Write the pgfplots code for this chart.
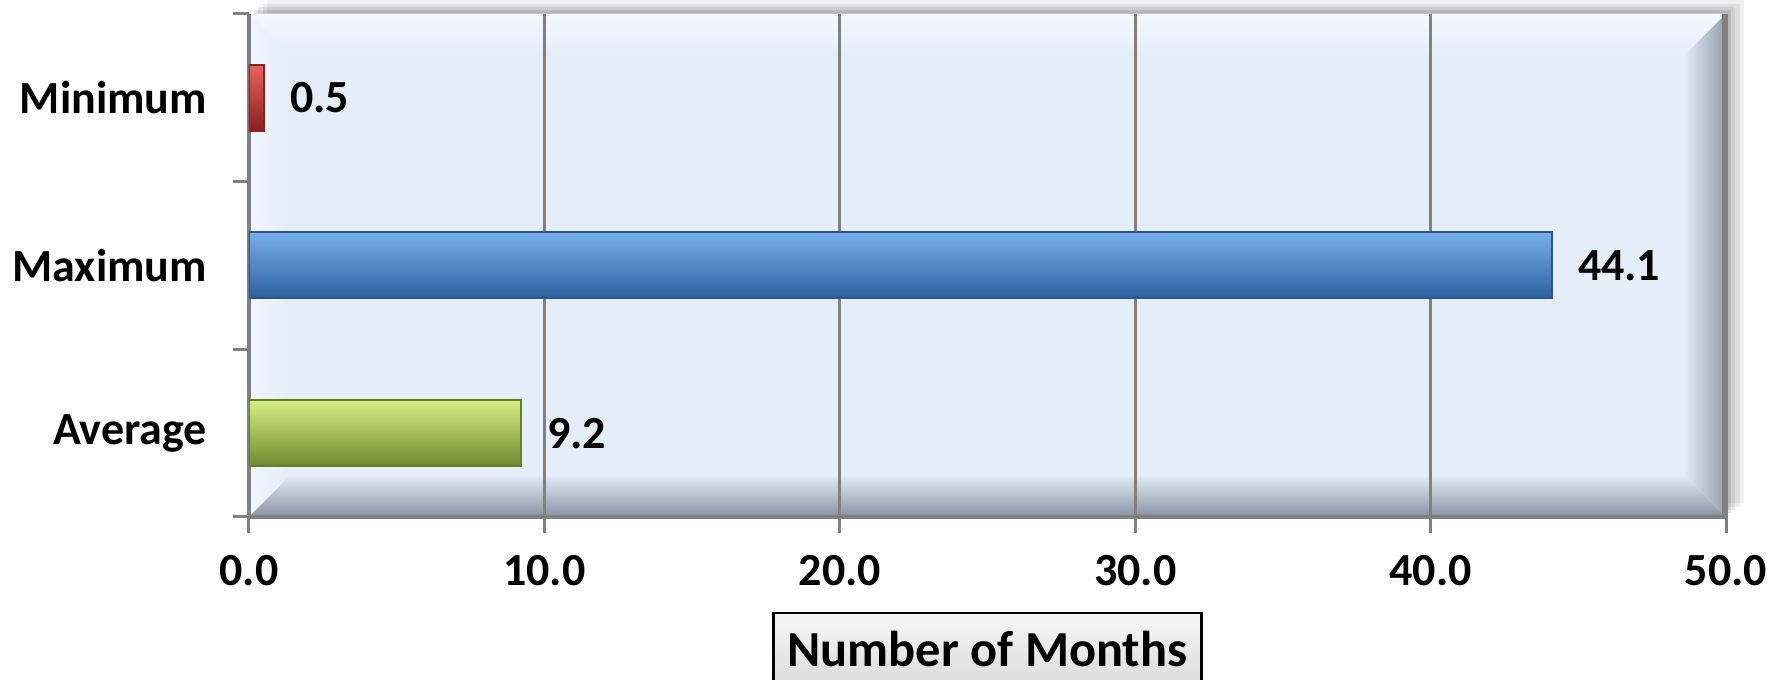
\documentclass[border=0pt]{standalone}
\usepackage{fontspec}
\setmainfont{Carlito}
\usepackage{pgfplots}
\pgfplotsset{compat=1.18}
\definecolor{bg}{RGB}{228,237,248}
\definecolor{gridc}{RGB}{128,128,128}
\definecolor{bevb}{RGB}{135,145,160}
\definecolor{bevr}{RGB}{145,155,170}
\definecolor{bevt}{RGB}{244,249,255}
\definecolor{bevl}{RGB}{240,246,252}
\definecolor{rT}{RGB}{230,100,95}
\definecolor{rM}{RGB}{192,48,46}
\definecolor{rB}{RGB}{140,30,30}
\definecolor{rD}{RGB}{140,35,35}
\definecolor{bT}{RGB}{120,175,235}
\definecolor{bM}{RGB}{62,124,200}
\definecolor{bB}{RGB}{45,95,158}
\definecolor{bD}{RGB}{40,85,140}
\definecolor{gT}{RGB}{215,238,130}
\definecolor{gM}{RGB}{155,190,70}
\definecolor{gB}{RGB}{110,138,46}
\definecolor{gD}{RGB}{100,125,40}
\tikzset{
  bevels/.style={path picture={
    \coordinate (SW) at (path picture bounding box.south west);
    \coordinate (SE) at (path picture bounding box.south east);
    \coordinate (NW) at (path picture bounding box.north west);
    \coordinate (NE) at (path picture bounding box.north east);
    \coordinate (iSW) at ([shift={(10.5pt,10.5pt)}]SW);
    \coordinate (iSE) at ([shift={(-10.5pt,10.5pt)}]SE);
    \coordinate (iNW) at ([shift={(10.5pt,-10.5pt)}]NW);
    \coordinate (iNE) at ([shift={(-10.5pt,-10.5pt)}]NE);
    \shade[bottom color=bg, top color=bevt] (NW) -- (NE) -- (iNE) -- (iNW) -- cycle;
    \shade[right color=bg, left color=bevl] (SW) -- (NW) -- (iNW) -- (iSW) -- cycle;
    \shade[top color=bg, bottom color=bevb] (SW) -- (SE) -- (iSE) -- (iSW) -- cycle;
    \shade[left color=bg, right color=bevr] (SE) -- (NE) -- (iNE) -- (iSE) -- cycle;
    \draw[gridc, line width=2pt] (NE) -- (SE);
  }},
}
\begin{document}
\begin{tikzpicture}
\begin{axis}[
  at={(0pt,0pt)}, anchor=south west,
  scale only axis, width=369.25pt, height=125.75pt,
  xbar, bar width=16.5pt, bar shift=0pt,
  xmin=0, xmax=50, ymin=-0.5, ymax=2.5,
  xtick={0,10,...,50},
  ytick={0,1,2}, yticklabels={Average,Maximum,Minimum},
  minor ytick={-0.5,0.5,1.5,2.5},
  axis x line*=bottom, axis y line*=left,
  tick align=outside,
  major tick length=4pt, minor tick length=4pt,
  major y tick style={draw=none},
  tick style={gridc, line width=0.75pt},
  axis line style={gridc, line width=0.9pt},
  xmajorgrids, grid style={gridc, line width=0.75pt},
  axis background/.style={
    preaction={fill=black, opacity=0.06, transform canvas={xshift=4.5pt, yshift=3.5pt}},
    preaction={fill=black, opacity=0.07, transform canvas={xshift=3.4pt, yshift=2.6pt}},
    preaction={fill=black, opacity=0.08, transform canvas={xshift=2.3pt, yshift=1.8pt}},
    preaction={fill=black, opacity=0.10, transform canvas={xshift=1.2pt, yshift=0.9pt}},
    fill=bg, bevels},
  ticklabel style={font=\bfseries\fontsize{11.5}{13}\selectfont, text=black},
  xticklabel={\pgfmathprintnumber[fixed,fixed zerofill,precision=1,assume math mode=true]{\tick}},
  xticklabel style={yshift=-2pt},
  yticklabel style={xshift=-3pt},
  xlabel={Number of Months},
  xlabel style={draw=black, line width=0.6pt, top color=gray!6, bottom color=gray!28,
    font=\bfseries\fontsize{12.6}{15}\selectfont, inner xsep=3.5pt, minimum height=18pt,
    at={(axis description cs:0.5,0)}, anchor=center, yshift=-33pt},
  point meta=x,
  nodes near coords={\pgfmathprintnumber[fixed,fixed zerofill,precision=1,assume math mode=true]{\pgfplotspointmeta}},
  nodes near coords style={font=\bfseries\fontsize{11.5}{13}\selectfont, text=black, anchor=west, xshift=3pt},
]
\addplot[draw=rD, line width=0.5pt, top color=rT, middle color=rM, bottom color=rB] coordinates {(0.5,2)};
\addplot[draw=bD, line width=0.5pt, top color=bT, middle color=bM, bottom color=bB] coordinates {(44.1,1)};
\addplot[draw=gD, line width=0.5pt, top color=gT, middle color=gM, bottom color=gB] coordinates {(9.2,0)};
\end{axis}
\pgfresetboundingbox
\path[use as bounding box] (-62.25pt,-40.75pt) rectangle (385pt,129.25pt);
\end{tikzpicture}
\end{document}
